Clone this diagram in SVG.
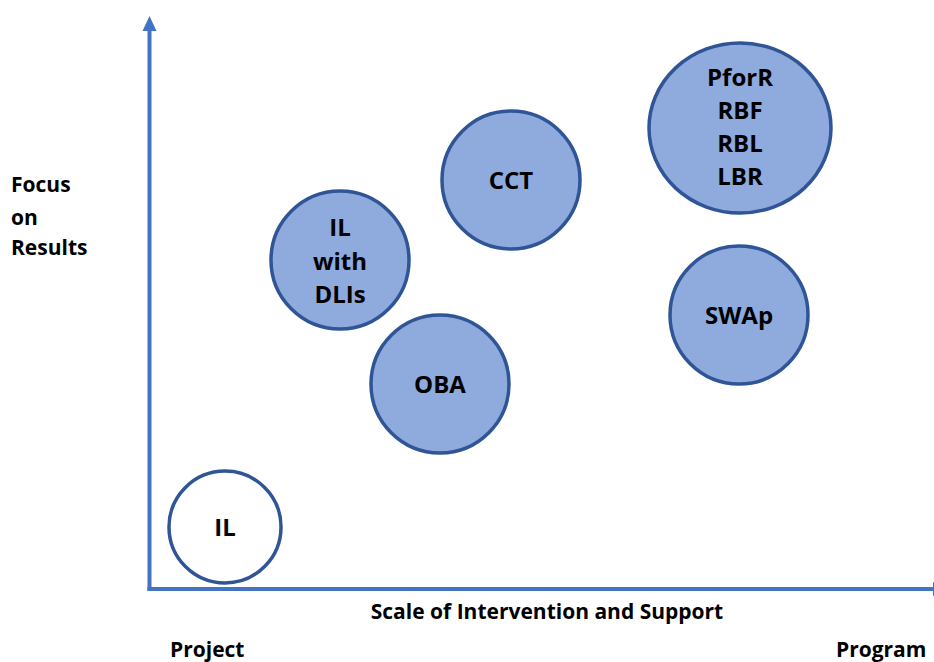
<svg xmlns="http://www.w3.org/2000/svg" width="934" height="662" viewBox="0 0 934 662">
<style>
.node{fill:#8FAADC;stroke:#2F5597;stroke-width:3.5}
.plain{fill:#FFFFFF;stroke:#2F5597;stroke-width:3.5}
.axis{stroke:#4472C4;stroke-width:4;fill:none}
.head{fill:#4472C4}
text{font-family:"Open Sans","Noto Sans",sans-serif;font-weight:700;fill:#000}
.nt{font-size:24px;text-anchor:middle}
.lab{font-size:21px}
</style>
<rect width="934" height="662" fill="#FFFFFF"/>
<g id="connectors">
<line class="axis" x1="149.5" y1="591" x2="149.5" y2="28"/>
<polygon class="head" points="149.5,16 142.5,31 156.5,31"/>
<line class="axis" x1="147.5" y1="589" x2="936" y2="589"/>
<polygon class="head" points="948,589 933,582 933,596"/>
</g>
<g id="node-il">
<circle class="plain" cx="225" cy="527" r="56"/>
<text class="nt" x="225" y="536">IL</text>
</g>
<g id="node-il-dlis">
<circle class="node" cx="340" cy="260" r="69"/>
<text class="nt" x="340" y="236">IL</text>
<text class="nt" x="340" y="270">with</text>
<text class="nt" x="340" y="303">DLIs</text>
</g>
<g id="node-oba">
<circle class="node" cx="440" cy="384" r="69"/>
<text class="nt" x="440" y="393">OBA</text>
</g>
<g id="node-cct">
<circle class="node" cx="511" cy="180" r="69"/>
<text class="nt" x="511" y="189">CCT</text>
</g>
<g id="node-pforr">
<ellipse class="node" cx="740" cy="128" rx="91" ry="85"/>
<text class="nt" x="740" y="86">PforR</text>
<text class="nt" x="740" y="119">RBF</text>
<text class="nt" x="740" y="152">RBL</text>
<text class="nt" x="740" y="185">LBR</text>
</g>
<g id="node-swap">
<circle class="node" cx="739" cy="315" r="69"/>
<text class="nt" x="739" y="324">SWAp</text>
</g>
<g id="labels">
<text class="lab" x="11" y="192">Focus</text>
<text class="lab" x="11" y="225">on</text>
<text class="lab" x="11" y="255">Results</text>
<text class="lab" x="547" y="619" text-anchor="middle">Scale of Intervention and Support</text>
<text class="lab" x="170" y="657">Project</text>
<text class="lab" x="836" y="657">Program</text>
</g>
</svg>
